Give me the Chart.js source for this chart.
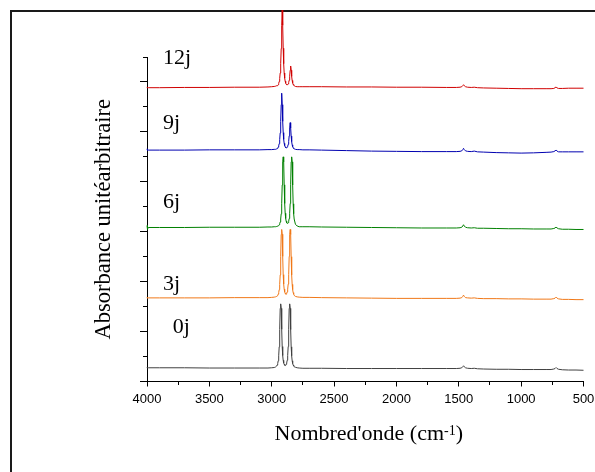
<!DOCTYPE html>
<html lang="fr">
<head>
<meta charset="utf-8">
<title>Spectres IR</title>
<script src="https://cdn.jsdelivr.net/npm/chart.js@4.4.1/dist/chart.umd.min.js"></script>
<style>
html, body { margin: 0; padding: 0; background: #fff; }
canvas { display: block; }
</style>
</head>
<body>
<canvas id="c" width="595" height="472"></canvas>
<script>
// Wavenumber grid (cm-1), shared by all spectra
const wavenumbers = [
  4000, 3996, 3990, 3900, 3700, 3500, 3300, 3100, 3030, 3000,
  2980, 2970, 2960, 2956, 2952, 2948, 2944, 2940, 2936, 2932, 2928, 2924, 2920, 2916, 2912, 2908, 2904, 2900,
  2896, 2892, 2888, 2884, 2880, 2876, 2872, 2868, 2864, 2860, 2856, 2852, 2848, 2844, 2840, 2836, 2832, 2828,
  2824, 2820, 2810, 2796, 2780,
  2750, 2700, 2600, 2400, 2200, 2000, 1800, 1600, 1520, 1490, 1476, 1468, 1462, 1456, 1446, 1430, 1400, 1376,
  1350, 1300, 1200, 1100, 1000, 900, 800, 760, 738, 728, 720, 712, 700, 670, 620, 560, 500
];

// Stacked absorbance (arbitrary units, offset per ageing time)
const abs0j = [
  0.56, 0.54, 0.55, 0.55, 0.55, 0.54, 0.54, 0.54, 0.54, 0.55,
  0.56, 0.58, 0.62, 0.66, 0.72, 0.83, 1.03, 1.39, 2.08, 2.93, 3.11, 2.93, 2.09, 1.40, 1.04, 0.85, 0.74, 0.69,
  0.65, 0.64, 0.65, 0.69, 0.74, 0.85, 1.04, 1.40, 2.09, 2.93, 3.11, 2.93, 2.08, 1.39, 1.03, 0.83, 0.72, 0.66,
  0.62, 0.59, 0.57, 0.55, 0.54,
  0.53, 0.53, 0.53, 0.52, 0.52, 0.52, 0.52, 0.52, 0.52, 0.53, 0.55, 0.59, 0.63, 0.59, 0.55, 0.53, 0.52, 0.53,
  0.51, 0.50, 0.49, 0.49, 0.48, 0.48, 0.48, 0.48, 0.50, 0.52, 0.56, 0.52, 0.49, 0.47, 0.46, 0.46, 0.45
];
const abs3j = [
  3.37, 3.34, 3.35, 3.35, 3.35, 3.35, 3.36, 3.36, 3.36, 3.37,
  3.38, 3.39, 3.41, 3.43, 3.45, 3.50, 3.56, 3.68, 3.89, 4.27, 5.00, 5.89, 6.09, 5.90, 5.01, 4.28, 3.90, 3.70,
  3.59, 3.53, 3.50, 3.50, 3.53, 3.59, 3.70, 3.90, 4.28, 5.01, 5.90, 6.09, 5.89, 5.00, 4.27, 3.89, 3.68, 3.56,
  3.50, 3.45, 3.41, 3.39, 3.38,
  3.37, 3.37, 3.36, 3.35, 3.34, 3.33, 3.33, 3.33, 3.33, 3.34, 3.36, 3.41, 3.46, 3.41, 3.36, 3.35, 3.34, 3.35,
  3.33, 3.32, 3.32, 3.31, 3.31, 3.30, 3.30, 3.30, 3.32, 3.34, 3.38, 3.34, 3.31, 3.29, 3.29, 3.28, 3.28
];
const abs6j = [
  6.25, 6.10, 6.17, 6.17, 6.17, 6.18, 6.18, 6.18, 6.19, 6.19,
  6.20, 6.20, 6.21, 6.22, 6.23, 6.24, 6.25, 6.28, 6.32, 6.39, 6.51, 6.72, 7.12, 7.87, 8.80, 9.00, 8.80, 7.88,
  7.13, 6.74, 6.53, 6.42, 6.36, 6.33, 6.33, 6.36, 6.42, 6.53, 6.74, 7.13, 7.88, 8.80, 9.00, 8.80, 7.87, 7.12,
  6.72, 6.51, 6.30, 6.23, 6.20,
  6.20, 6.20, 6.19, 6.18, 6.17, 6.16, 6.15, 6.15, 6.15, 6.16, 6.18, 6.23, 6.28, 6.23, 6.18, 6.16, 6.15, 6.16,
  6.14, 6.14, 6.13, 6.12, 6.12, 6.11, 6.11, 6.11, 6.13, 6.15, 6.19, 6.15, 6.12, 6.10, 6.10, 6.09, 6.09
];
const abs9j = [
  9.32, 9.26, 9.27, 9.27, 9.27, 9.28, 9.28, 9.28, 9.29, 9.29,
  9.30, 9.30, 9.32, 9.33, 9.35, 9.39, 9.44, 9.53, 9.69, 9.96, 10.42, 11.09, 11.55, 11.09, 10.42, 9.97, 9.70, 9.54,
  9.45, 9.40, 9.37, 9.36, 9.37, 9.39, 9.42, 9.50, 9.62, 9.84, 10.16, 10.37, 10.16, 9.83, 9.61, 9.48, 9.41, 9.36,
  9.34, 9.32, 9.30, 9.29, 9.29,
  9.28, 9.28, 9.27, 9.25, 9.23, 9.22, 9.21, 9.21, 9.21, 9.22, 9.24, 9.29, 9.34, 9.29, 9.24, 9.22, 9.21, 9.23,
  9.20, 9.19, 9.17, 9.16, 9.15, 9.16, 9.18, 9.19, 9.21, 9.24, 9.27, 9.23, 9.20, 9.20, 9.20, 9.20, 9.20
];
const abs12j = [
  11.80, 11.76, 11.77, 11.77, 11.78, 11.78, 11.79, 11.79, 11.80, 11.81,
  11.82, 11.83, 11.85, 11.85, 11.87, 11.89, 11.94, 12.02, 12.14, 12.36, 12.73, 13.34, 14.27, 14.88, 14.27, 13.35, 12.73, 12.36,
  12.15, 12.03, 11.95, 11.91, 11.89, 11.89, 11.90, 11.92, 11.98, 12.07, 12.23, 12.47, 12.64, 12.47, 12.22, 12.06, 11.96, 11.90,
  11.87, 11.85, 11.82, 11.81, 11.81,
  11.81, 11.81, 11.81, 11.80, 11.80, 11.79, 11.79, 11.78, 11.78, 11.79, 11.81, 11.85, 11.89, 11.85, 11.81, 11.79, 11.78, 11.79,
  11.77, 11.76, 11.75, 11.74, 11.73, 11.73, 11.73, 11.73, 11.74, 11.77, 11.80, 11.76, 11.74, 11.74, 11.75, 11.75, 11.75
];

const seriesNames = ['0j', '3j', '6j', '9j', '12j'];
const seriesValues = [abs0j, abs3j, abs6j, abs9j, abs12j];
const seriesColors = ['#404040', '#f07818', '#008000', '#0000b0', '#d00000'];

// Where each curve's name is written (wavenumber, absorbance of the text baseline)
const nameWavenumbers = [3794, 3871, 3871, 3871, 3871];
const nameLevels = [1.95, 3.68, 6.95, 10.1, 12.72];

const serif = "'Liberation Serif', 'Times New Roman', serif";

const decorations = {
  id: 'decorations',
  beforeDraw(chart) {
    const ctx = chart.ctx;
    ctx.save();
    ctx.strokeStyle = '#1a1a1a';
    ctx.lineWidth = 2;
    ctx.strokeRect(11, 11, 800, 800);
    ctx.restore();
  },
  afterDraw(chart) {
    const { ctx, chartArea, scales: { x, y } } = chart;
    const align = p => Math.round(p - 0.5) + 0.5;
    ctx.save();
    ctx.strokeStyle = '#000';
    ctx.lineWidth = 1;
    // minor ticks
    y.ticks.forEach(t => {
      if (t.value % 2 !== 0) {
        const py = align(y.getPixelForValue(t.value));
        ctx.beginPath();
        ctx.moveTo(chartArea.left - 4, py);
        ctx.lineTo(align(chartArea.left), py);
        ctx.stroke();
      }
    });
    x.ticks.forEach(t => {
      if (t.value % 500 !== 0) {
        const px = align(x.getPixelForValue(t.value));
        ctx.beginPath();
        ctx.moveTo(px, align(chartArea.bottom));
        ctx.lineTo(px, chartArea.bottom + 3.5);
        ctx.stroke();
      }
    });

    // curve names
    ctx.fillStyle = '#000';
    ctx.font = '22px ' + serif;
    ctx.textAlign = 'left';
    ctx.textBaseline = 'alphabetic';
    seriesNames.forEach((name, i) => {
      ctx.fillText(name, x.getPixelForValue(nameWavenumbers[i]), y.getPixelForValue(nameLevels[i]));
    });

    // x axis title with superscript
    const main = "Nombred'onde (cm", sup = '-1', close = ')';
    ctx.font = '22px ' + serif;
    const w1 = ctx.measureText(main).width;
    const w3 = ctx.measureText(close).width;
    ctx.font = '14px ' + serif;
    const w2 = ctx.measureText(sup).width;
    const by = chartArea.bottom + 58.5;
    let sx = (chartArea.left + chartArea.right) / 2 + 3.5 - (w1 + w2 + w3) / 2;
    ctx.font = '22px ' + serif;
    ctx.fillText(main, sx, by);
    sx += w1;
    ctx.font = '14px ' + serif;
    ctx.fillText(sup, sx, by - 5.5);
    sx += w2;
    ctx.font = '22px ' + serif;
    ctx.fillText(close, sx, by);

    // y axis title
    ctx.translate(chartArea.left - 37.5, (chartArea.top + chartArea.bottom) / 2);
    ctx.rotate(-Math.PI / 2);
    ctx.textAlign = 'center';
    ctx.font = '22.5px ' + serif;
    ctx.fillText('Absorbance unitéarbitraire', 0, 0);
    ctx.restore();
  }
};

new Chart(document.getElementById('c'), {
  type: 'line',
  data: {
    datasets: seriesNames.map((name, k) => ({
      label: name,
      data: wavenumbers.map((w, i) => ({ x: w, y: seriesValues[k][i] })),
      borderColor: seriesColors[k],
      borderWidth: 1,
      pointRadius: 0,
      tension: 0,
      fill: false,
      clip: false
    }))
  },
  options: {
    responsive: false,
    animation: false,
    devicePixelRatio: 1,
    layout: { padding: { left: 0, top: 57, right: 11.5, bottom: 0 } },
    plugins: { legend: { display: false }, tooltip: { enabled: false } },
    scales: {
      x: {
        type: 'linear',
        reverse: true,
        min: 500,
        max: 4000,
        position: 'bottom',
        afterFit(s) { s.height = 90.5; s.paddingLeft = 0; s.paddingRight = 0; },
        ticks: {
          stepSize: 250,
          autoSkip: false,
          maxRotation: 0,
          padding: 5,
          color: '#000',
          font: { family: "'Liberation Sans', Arial, sans-serif", size: 13 },
          callback: v => (v % 500 === 0 ? String(v) : '')
        },
        grid: {
          drawOnChartArea: false,
          drawTicks: true,
          tickLength: 5,
          tickWidth: 1,
          tickColor: c => (c.tick && c.tick.value % 500 === 0 ? '#000' : 'rgba(0,0,0,0)')
        },
        border: { display: true, color: '#000', width: 1 }
      },
      y: {
        type: 'linear',
        min: 0,
        max: 13,
        position: 'left',
        afterFit(s) { s.width = 147; },
        ticks: { stepSize: 1, display: false },
        grid: {
          drawOnChartArea: false,
          drawTicks: true,
          tickLength: 7,
          tickWidth: 1,
          tickColor: c => (c.tick && c.tick.value % 2 === 0 ? '#000' : 'rgba(0,0,0,0)')
        },
        border: { display: true, color: '#000', width: 1 }
      }
    }
  },
  plugins: [decorations]
});
</script>
</body>
</html>
